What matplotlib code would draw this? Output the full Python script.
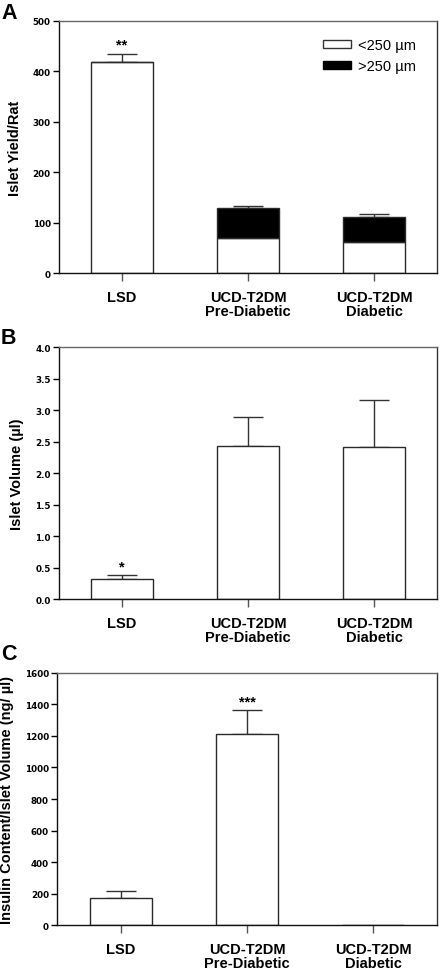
import matplotlib
matplotlib.use("Agg")
import matplotlib.pyplot as plt
from matplotlib.patches import Patch
import numpy as np

categories = ["LSD", "UCD-T2DM\nPre-Diabetic", "UCD-T2DM\nDiabetic"]

# Panel A: islet yield per rat
yield_small = [418, 70, 61]     # <250 µm
yield_large = [0, 58, 50]       # >250 µm
yield_err = [17, 4, 6]
yield_sig = ["**", "", ""]

# Panel B: islet volume (µl)
volume = [0.33, 2.43, 2.42]
volume_err = [0.05, 0.47, 0.74]
volume_sig = ["*", "", ""]

# Panel C: insulin content / islet volume (ng/µl)
insulin = [173, 1211, 5]
insulin_err = [42, 152, 0]
insulin_sig = ["", "***", ""]

W, H = 440, 970
fig = plt.figure(figsize=(W / 100, H / 100), dpi=100)

LBL = "Liberation Sans"
TICKF = "DejaVu Sans"
EDGE = "#2a2a2a"


def make_axes(left, top, right, bottom):
    return fig.add_axes([left / W, 1 - bottom / H, (right - left) / W, (bottom - top) / H])


def style(ax, ylim, yticks, fmt, ylabel, labelx):
    ax.set_xlim(-0.5, 2.5)
    ax.set_ylim(*ylim)
    ax.set_yticks(yticks)
    ax.set_yticklabels([fmt.format(t) for t in yticks], fontfamily=TICKF,
                       fontweight="bold", fontsize=6.3)
    ax.set_xticks(range(len(categories)))
    ax.set_xticklabels(categories, fontfamily=LBL, fontweight="bold",
                       fontsize=10.5, linespacing=1.0)
    ax.tick_params(axis="y", direction="out", length=4, width=1, pad=2)
    ax.tick_params(axis="x", direction="out", length=6, width=1, pad=6,
                   color="#555555")
    for s in ["left", "bottom"]:
        ax.spines[s].set_color("#111111")
        ax.spines[s].set_linewidth(1.0)
    ax.spines["top"].set_color("#666666")
    ax.spines["right"].set_color("#333333")
    for s in ["top", "right"]:
        ax.spines[s].set_linewidth(1.0)
    ax.set_ylabel(ylabel, fontfamily=LBL, fontweight="bold", fontsize=10.5)
    ax.yaxis.set_label_coords(labelx, 0.5)


def errs(ax, x, tops, err):
    ax.errorbar(x, tops, yerr=[np.zeros(len(err)), err], fmt="none",
                ecolor="#333333", elinewidth=1.0, capsize=11, capthick=1.0, zorder=1)


def stars(ax, x, tops, err, sig):
    for xi, t, e, s in zip(x, tops, err, sig):
        if s:
            ax.annotate(s, xy=(xi, t + e), xytext=(0, 1.5), textcoords="offset points",
                        ha="center", va="bottom", fontfamily=LBL, fontweight="bold",
                        fontsize=10.5)


x = np.arange(len(categories))
bw = 0.49

# ---- Panel A ----
axA = make_axes(59, 22, 437, 274)
tot = np.array(yield_small) + np.array(yield_large)
errs(axA, x, tot, yield_err)
axA.bar(x, yield_small, width=bw, color="white", edgecolor=EDGE, linewidth=1.0, zorder=2)
axA.bar(x, yield_large, width=bw, bottom=yield_small, color="black", edgecolor=EDGE,
        linewidth=1.0, zorder=2)
style(axA, (0, 500), [0, 100, 200, 300, 400, 500], "{:d}", "Islet Yield/Rat", -0.099)
stars(axA, x, tot, yield_err, yield_sig)
handles = [Patch(facecolor="white", edgecolor="#333333", linewidth=1.0),
           Patch(facecolor="black", edgecolor="black", linewidth=1.0)]
leg = axA.legend(handles, ["<250 µm", ">250 µm"], loc="upper right",
                 bbox_to_anchor=(0.965, 0.96), frameon=False, borderpad=0,
                 handlelength=1.95, handleheight=0.5, handletextpad=0.5,
                 labelspacing=0.45, prop={"family": LBL, "size": 10.5})

# ---- Panel B ----
axB = make_axes(59, 348.3, 437, 600.3)
errs(axB, x, volume, volume_err)
axB.bar(x, volume, width=bw, color="white", edgecolor=EDGE, linewidth=1.0, zorder=2)
style(axB, (0, 4.0), [0.0, 0.5, 1.0, 1.5, 2.0, 2.5, 3.0, 3.5, 4.0], "{:.1f}",
      "Islet Volume (µl)", -0.093)
stars(axB, x, volume, volume_err, volume_sig)

# ---- Panel C ----
axC = make_axes(57.3, 673.7, 436.7, 926.3)
errs(axC, x[:2], insulin[:2], insulin_err[:2])
axC.bar(x, insulin, width=bw, color="white", edgecolor=EDGE, linewidth=1.0, zorder=2)
style(axC, (0, 1600), [0, 200, 400, 600, 800, 1000, 1200, 1400, 1600], "{:d}",
      "Insulin Content/Islet Volume (ng/ µl)", -0.114)
stars(axC, x, insulin, insulin_err, insulin_sig)

# Panel letters
for lab, ytop in [("A", 3), ("B", 328), ("C", 644)]:
    fig.text(1 / W, 1 - ytop / H, lab, fontfamily=LBL, fontweight="bold",
             fontsize=15.5, ha="left", va="top")

fig.savefig("out.png", dpi=100)
